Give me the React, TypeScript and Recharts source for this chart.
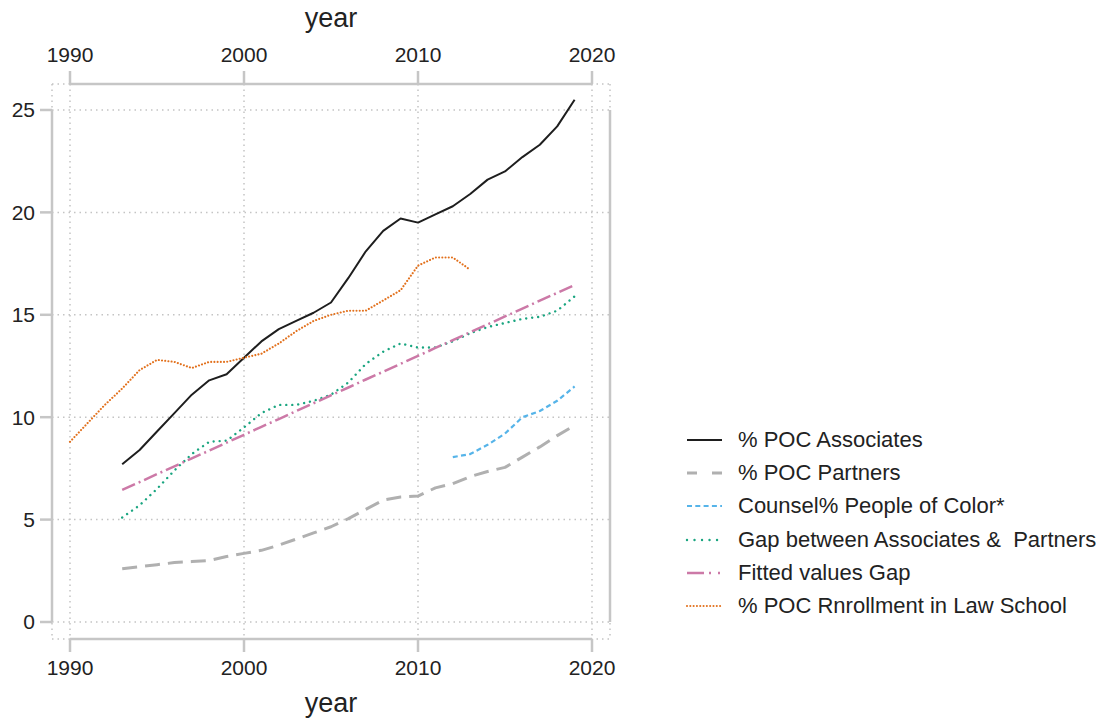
import React from 'react';
import { LineChart, Line, XAxis, YAxis, CartesianGrid, Legend } from 'recharts';

const FONT = '"Liberation Sans", Arial, Helvetica, sans-serif';

const years = [1990, 1991, 1992, 1993, 1994, 1995, 1996, 1997, 1998, 1999, 2000, 2001, 2002, 2003, 2004, 2005, 2006, 2007, 2008, 2009, 2010, 2011, 2012, 2013, 2014, 2015, 2016, 2017, 2018, 2019];

const associates = [null, null, null, 7.7, 8.4, 9.3, 10.2, 11.1, 11.8, 12.1, 12.9, 13.7, 14.3, 14.7, 15.1, 15.6, 16.8, 18.1, 19.1, 19.7, 19.5, 19.9, 20.3, 20.9, 21.6, 22.0, 22.7, 23.3, 24.2, 25.5];
const partners = [null, null, null, 2.6, 2.7, 2.8, 2.9, 2.95, 3.0, 3.2, 3.35, 3.5, 3.75, 4.05, 4.35, 4.65, 5.05, 5.5, 5.95, 6.1, 6.15, 6.55, 6.75, 7.1, 7.35, 7.55, 8.05, 8.55, 9.1, 9.6];
const counsel = [null, null, null, null, null, null, null, null, null, null, null, null, null, null, null, null, null, null, null, null, null, null, 8.05, 8.2, 8.65, 9.2, 10.0, 10.3, 10.8, 11.5];
const gap = [null, null, null, 5.1, 5.7, 6.5, 7.4, 8.2, 8.8, 8.85, 9.5, 10.2, 10.6, 10.6, 10.8, 11.1, 11.7, 12.6, 13.2, 13.6, 13.4, 13.4, 13.7, 14.1, 14.4, 14.6, 14.8, 14.9, 15.2, 15.9];
const fitted = [null, null, null, 6.45, 6.83, 7.22, 7.6, 7.99, 8.37, 8.76, 9.14, 9.53, 9.91, 10.3, 10.68, 11.07, 11.45, 11.84, 12.22, 12.61, 12.99, 13.38, 13.76, 14.15, 14.53, 14.92, 15.3, 15.69, 16.07, 16.45];
const enrollment = [8.8, 9.7, 10.6, 11.4, 12.3, 12.8, 12.7, 12.4, 12.7, 12.7, 12.9, 13.1, 13.6, 14.2, 14.7, 15.0, 15.2, 15.2, 15.7, 16.2, 17.4, 17.8, 17.8, 17.2, null, null, null, null, null, null];

const xTicks = [1990, 2000, 2010, 2020];
const yTicks = [0, 5, 10, 15, 20, 25];
const xDomain = [1990, 2020];
const yDomain = [0, 26];

const data = years.map((year, i) => ({
  year,
  associates: associates[i],
  partners: partners[i],
  counsel: counsel[i],
  gap: gap[i],
  fitted: fitted[i],
  enrollment: enrollment[i],
}));

type SeriesDef = {
  key: string;
  name: string;
  color: string;
  width: number;
  dash?: string;
  legendDash?: string;
  cap?: 'butt' | 'round';
};

const SERIES: SeriesDef[] = [
  { key: 'associates', name: '% POC Associates', color: '#1e1e1e', width: 2 },
  { key: 'partners', name: '% POC Partners', color: '#b0b0b0', width: 3, dash: '15 8', legendDash: '10 15' },
  { key: 'counsel', name: 'Counsel% People of Color*', color: '#56b4e9', width: 2.2, dash: '5 3.3', legendDash: '5 3.3' },
  { key: 'gap', name: 'Gap between Associates &  Partners', color: '#1aa580', width: 2.4, dash: '0.01 6', legendDash: '0.01 7.5', cap: 'round' },
  { key: 'fitted', name: 'Fitted values Gap', color: '#cc79a7', width: 2.5, dash: '14 4 2 4', legendDash: '17 5 2 7 2 10' },
  { key: 'enrollment', name: '% POC Rnrollment in Law School', color: '#e2711d', width: 2.1, dash: '0.01 3.2', legendDash: '0.01 3.3', cap: 'round' },
];

const AXIS_COLOR = '#c6c6c6';
const TICK_STYLE = { fill: '#222', fontSize: 21, fontFamily: FONT };

function LegendContent(props: any) {
  const payload = props.payload || [];
  return (
    <div style={{ fontFamily: FONT, fontSize: 22, color: '#222' }}>
      {SERIES.map((s) => {
        const entry = payload.find((e: any) => e.dataKey === s.key);
        if (!entry) return null;
        return (
          <div key={s.key} style={{ height: 33.3, display: 'flex', alignItems: 'center' }}>
            <svg width={36} height={10} style={{ display: 'block', overflow: 'visible' }}>
              <line
                x1={0}
                y1={5}
                x2={35}
                y2={5}
                stroke={s.color}
                strokeWidth={s.width}
                strokeDasharray={s.legendDash ?? s.dash}
                strokeLinecap={s.cap ?? 'butt'}
              />
            </svg>
            <span style={{ marginLeft: 15, whiteSpace: 'pre', lineHeight: 1 }}>{entry.value}</span>
          </div>
        );
      })}
    </div>
  );
}

export default function App() {
  return (
    <div style={{ width: 1088, height: 719, marginTop: -8, fontFamily: FONT }}>
      <LineChart width={1088} height={719} data={data} margin={{ top: 0, right: 426, bottom: 0, left: 0 }}>
        <CartesianGrid
          xAxisId="bottom"
          yAxisId="left"
          stroke="#c4c4c4"
          strokeDasharray="1.5 4"
          strokeWidth={1.5}
        />
        <XAxis
          xAxisId="bottom"
          orientation="bottom"
          type="number"
          dataKey="year"
          domain={xDomain}
          ticks={xTicks}
          padding={{ left: 18, right: 18 }}
          height={80}
          tickSize={13}
          tickMargin={8}
          tick={TICK_STYLE}
          axisLine={{ stroke: AXIS_COLOR, strokeWidth: 2.5, strokeDasharray: '0 18 522 100' }}
          tickLine={{ stroke: AXIS_COLOR, strokeWidth: 2.5 }}
          label={{ value: 'year', position: 'insideBottom', offset: 7, fontSize: 27, fill: '#222', fontFamily: FONT }}
        />
        <XAxis
          xAxisId="top"
          orientation="top"
          type="number"
          dataKey="year"
          domain={xDomain}
          ticks={xTicks}
          padding={{ left: 18, right: 18 }}
          height={84}
          tickSize={13}
          tickMargin={9}
          tick={TICK_STYLE}
          axisLine={{ stroke: AXIS_COLOR, strokeWidth: 2.5, strokeDasharray: '0 18 522 100' }}
          tickLine={{ stroke: AXIS_COLOR, strokeWidth: 2.5 }}
          label={{ value: 'year', position: 'insideTop', offset: 8, fontSize: 27, fill: '#222', fontFamily: FONT }}
        />
        <YAxis
          yAxisId="left"
          orientation="left"
          type="number"
          domain={yDomain}
          ticks={yTicks}
          padding={{ top: 5.5, bottom: 17 }}
          width={44}
          tickSize={12}
          tickMargin={5}
          tick={TICK_STYLE}
          axisLine={{ stroke: AXIS_COLOR, strokeWidth: 2.5, strokeDasharray: '0 26 512 100' }}
          tickLine={{ stroke: AXIS_COLOR, strokeWidth: 2.5 }}
        />
        <YAxis
          yAxisId="right"
          orientation="right"
          type="number"
          domain={yDomain}
          ticks={yTicks}
          padding={{ top: 5.5, bottom: 17 }}
          width={60}
          tickSize={11}
          tickMargin={4}
          tick={TICK_STYLE}
          axisLine={{ stroke: AXIS_COLOR, strokeWidth: 2.5, strokeDasharray: '0 26 512 100' }}
          tickLine={{ stroke: AXIS_COLOR, strokeWidth: 2.5 }}
        />
        {SERIES.map((s) => (
          <Line
            key={s.key}
            xAxisId="bottom"
            yAxisId="left"
            type="linear"
            dataKey={s.key}
            name={s.name}
            stroke={s.color}
            strokeWidth={s.width}
            strokeDasharray={s.dash}
            strokeLinecap={s.cap ?? 'butt'}
            strokeLinejoin="round"
            dot={false}
            activeDot={false}
            isAnimationActive={false}
          />
        ))}
        <Legend
          layout="vertical"
          align="center"
          verticalAlign="middle"
          content={LegendContent}
          wrapperStyle={{ left: 679, top: 423, width: 420, right: 'auto', bottom: 'auto' }}
        />
      </LineChart>
    </div>
  );
}
